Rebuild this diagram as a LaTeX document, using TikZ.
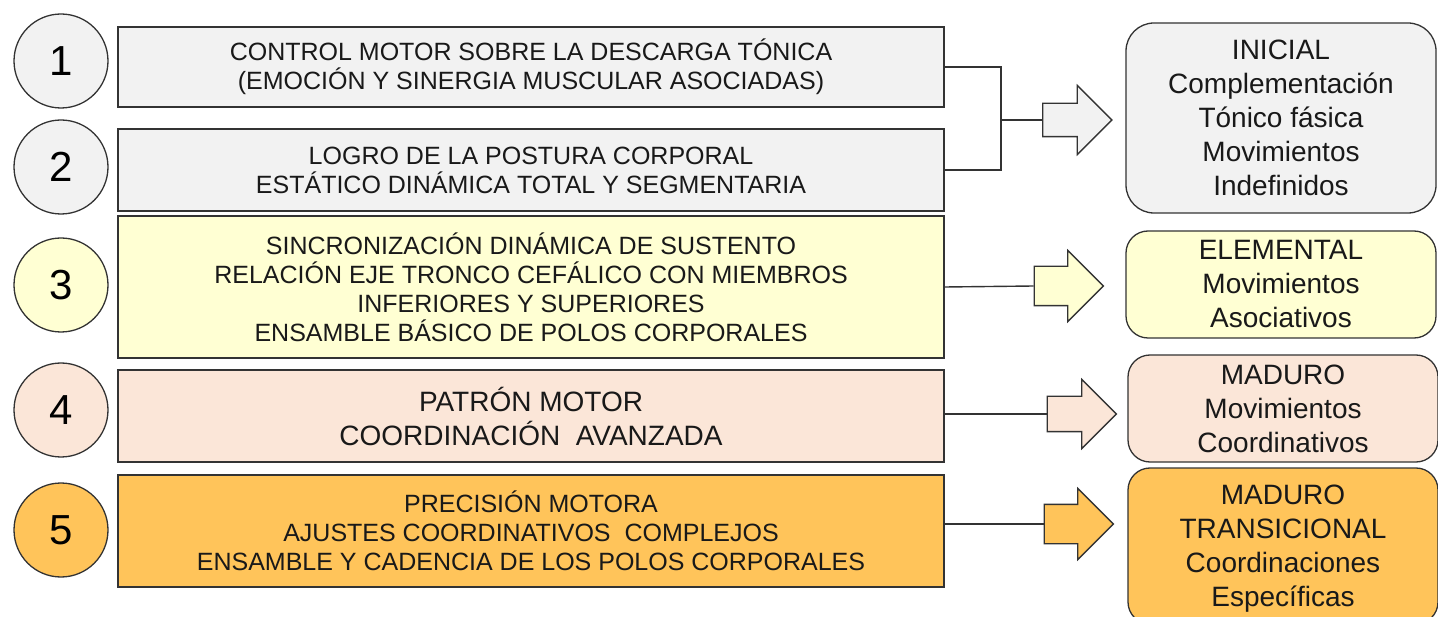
\documentclass[tikz,border=0pt]{standalone}
\usepackage{fontspec}
\setmainfont{Liberation Sans}
\usepackage{tikz}
\usetikzlibrary{shapes,arrows,positioning,calc}
\usepackage{xcolor}

\definecolor{gris}{HTML}{F2F2F2}
\definecolor{amarillo}{HTML}{FFFFD3}
\definecolor{durazno}{HTML}{FBE6D8}
\definecolor{naranja}{HTML}{FFC45A}
\definecolor{borde}{HTML}{333333}

\begin{document}
\begin{tikzpicture}[x=1pt,y=-1pt,
    numcirc/.style={circle, draw=borde, line width=1.3pt, minimum size=94pt, inner sep=0pt,
        font=\fontsize{42}{42}\selectfont},
    etapa/.style={rectangle, draw=borde, line width=1.6pt, minimum width=826pt, inner sep=0pt,
        align=center, text=black!90, font=\fontsize{25}{29}\selectfont},
    nivel/.style={rectangle, rounded corners=22pt, draw=borde, line width=1.3pt, minimum width=310pt,
        inner sep=0pt, align=center, text=black!90, font=\fontsize{28}{34}\selectfont},
    flecha/.style={single arrow, draw=borde, line width=1.3pt, inner xsep=0pt, inner ysep=16pt,
        single arrow head extend=18pt, single arrow head indent=0pt, minimum height=69pt},
    linea/.style={draw=borde, line width=1.4pt}]

    \useasboundingbox (0,0) rectangle (1438,617);
    \clip (0,0) rectangle (1438,617);

    % Circulos numerados
    \foreach \n/\y/\c in {1/61/gris, 2/167/gris, 3/285/amarillo, 4/410/durazno, 5/530/naranja} {
        \node[numcirc, fill=\c] (c\n) at (61,\y) {\n};
    }

    % Etapas (izquierda)
    \node[etapa, fill=gris, minimum height=80pt] (b1) at (531,67)
        {CONTROL MOTOR SOBRE LA DESCARGA TÓNICA\\(EMOCIÓN Y SINERGIA MUSCULAR ASOCIADAS)};
    \node[etapa, fill=gris, minimum height=82pt] (b2) at (531,170)
        {LOGRO DE LA POSTURA CORPORAL\\ESTÁTICO DINÁMICA TOTAL Y SEGMENTARIA};
    \node[etapa, fill=amarillo, minimum height=142pt] (b3) at (531,287)
        {SINCRONIZACIÓN DINÁMICA DE SUSTENTO\\RELACIÓN EJE TRONCO CEFÁLICO CON MIEMBROS\\
         INFERIORES Y SUPERIORES\\ENSAMBLE BÁSICO DE POLOS CORPORALES};
    \node[etapa, fill=durazno, minimum height=92pt, font=\fontsize{28}{34}\selectfont] (b4) at (531,416)
        {PATRÓN MOTOR\\COORDINACIÓN\ \ AVANZADA};
    \node[etapa, fill=naranja, minimum height=112pt] (b5) at (531,531)
        {PRECISIÓN MOTORA\\AJUSTES COORDINATIVOS\ \ COMPLEJOS\\ENSAMBLE Y CADENCIA DE LOS POLOS CORPORALES};

    % Flechas
    \node[flecha, fill=gris] (a1) at (1069,120) {};
    \node[flecha, fill=amarillo, inner ysep=19pt, single arrow head extend=16pt] (a3) at (1059,286) {};
    \node[flecha, fill=durazno, inner ysep=17pt, single arrow head extend=17pt] (a4) at (1073,414) {};
    \node[flecha, fill=naranja, inner ysep=19pt, single arrow head extend=16pt] (a5) at (1069,524) {};

    % Niveles (derecha)
    \node[nivel, fill=gris, rounded corners=28pt, minimum height=190pt] (r1) at (1281,118)
        {INICIAL\\Complementación\\Tónico fásica\\Movimientos\\Indefinidos};
    \node[nivel, fill=amarillo, minimum height=107pt] (r2) at (1281,284.5)
        {ELEMENTAL\\Movimientos\\Asociativos};
    \node[nivel, fill=durazno, minimum height=107pt] (r3) at (1283,408.5)
        {MADURO\\Movimientos\\Coordinativos};
    \node[nivel, fill=naranja, minimum height=156pt, text depth=0pt] (r4) at (1283,546)
        {MADURO\\TRANSICIONAL\\Coordinaciones\\Específicas};

    % Conectores
    \coordinate (jn) at (1001,120);
    \draw[linea] (b1.east) -| (jn) |- (b2.east);
    \draw[linea] (jn) -- (a1.west);
    \draw[linea] (b3.east) -- (a3.west);
    \draw[linea] (b4.east |- a4.west) -- (a4.west);
    \draw[linea] (b5.east |- a5.west) -- (a5.west);
\end{tikzpicture}
\end{document}
